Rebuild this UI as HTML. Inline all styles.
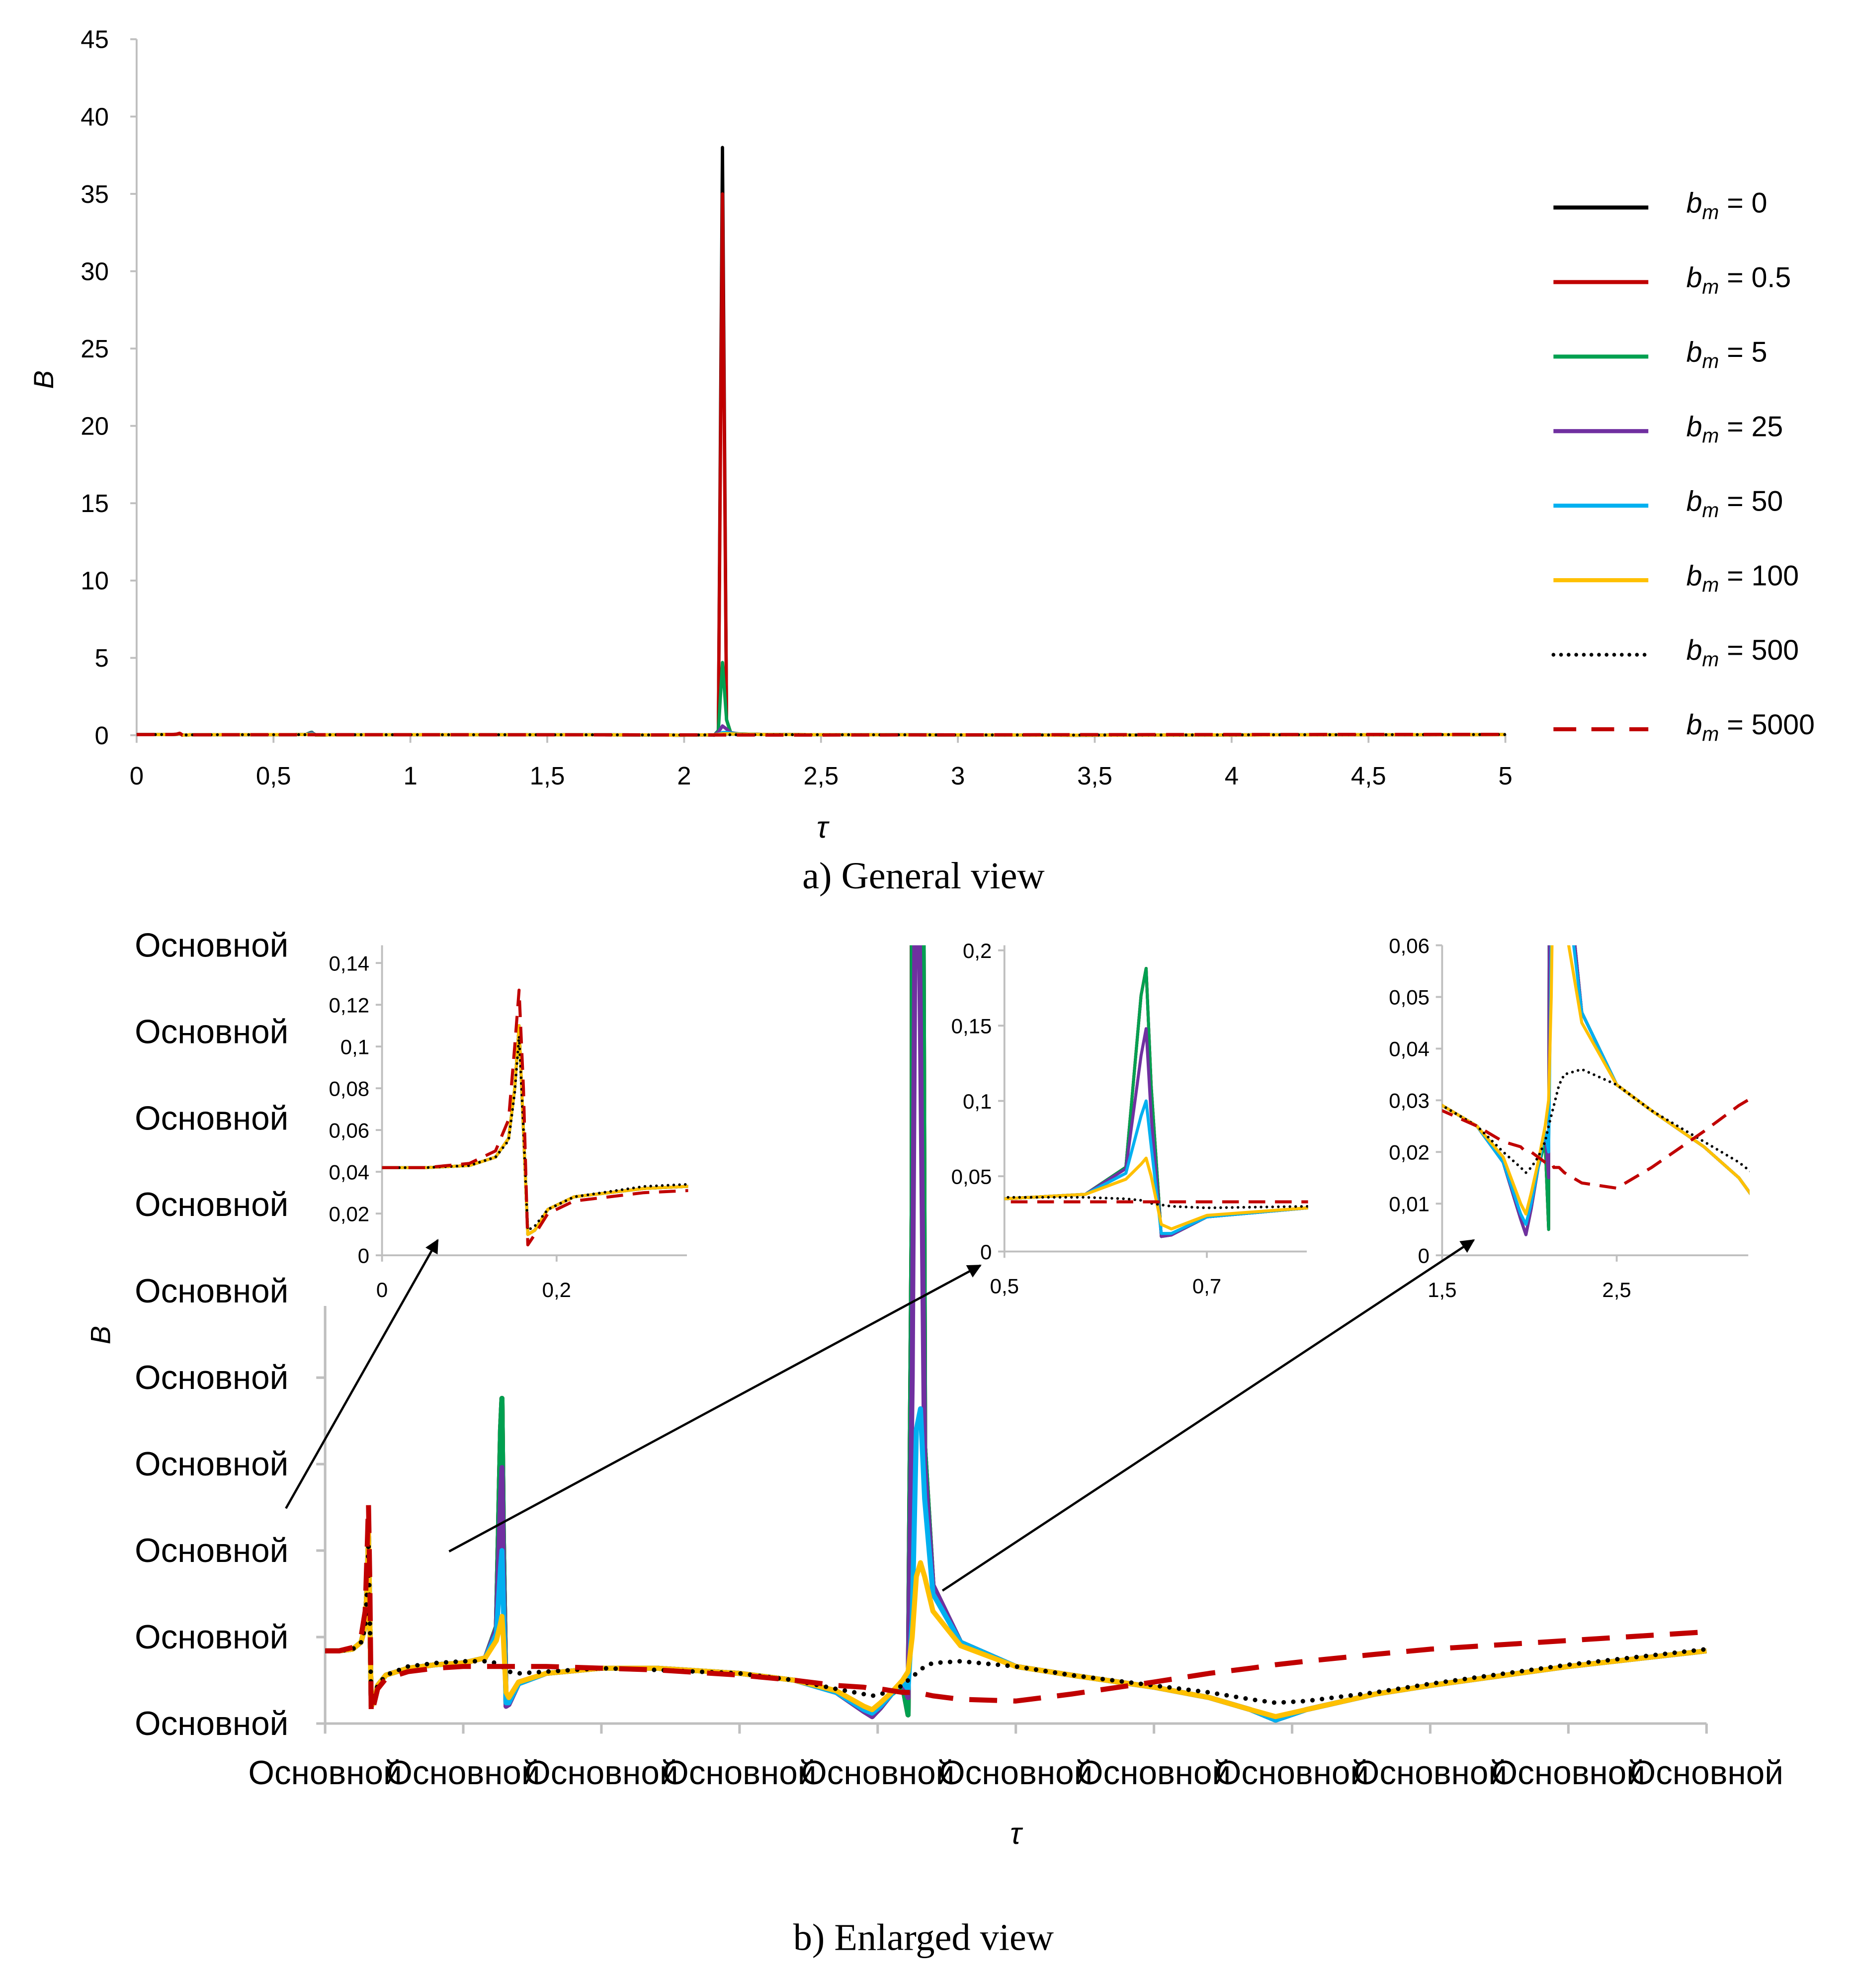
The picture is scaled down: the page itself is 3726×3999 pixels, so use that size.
<!DOCTYPE html>
<html><head><meta charset="utf-8"><style>
html,body{margin:0;padding:0;background:#fff}
svg{display:block}
text{font-family:"Liberation Sans",sans-serif;fill:#000}
.ser{font-family:"Liberation Serif",serif}
</style></head><body>
<svg id="svg" width="3726" height="3999" viewBox="0 0 1464 1571" preserveAspectRatio="none" xmlns="http://www.w3.org/2000/svg">
<defs>
<clipPath id="cTop"><rect x="108" y="20" width="1085" height="565"/></clipPath>
<clipPath id="cMain"><rect x="257" y="747" width="1095" height="620"/></clipPath>
<clipPath id="cI1"><rect x="302" y="747" width="242" height="248"/></clipPath>
<clipPath id="cI2"><rect x="794" y="747" width="240" height="245"/></clipPath>
<clipPath id="cI3"><rect x="1140" y="747" width="243" height="248"/></clipPath>
<marker id="ah" viewBox="0 0 10 10" refX="9" refY="5" markerWidth="11" markerHeight="11" orient="auto" markerUnits="userSpaceOnUse"><path d="M0,0 L10,5 L0,10 z" fill="#000"/></marker>
</defs>
<g id="root"></g>
<text class="ser" x="730" y="702" font-size="30" text-anchor="middle">a) General view</text>
<text class="ser" x="730" y="1541" font-size="30" text-anchor="middle">b) Enlarged view</text>
</svg>
<script>
const tau = [0,0.05,0.1,0.13,0.145,0.152,0.157,0.162,0.167,0.175,0.19,0.22,0.3,0.4,0.5,0.58,0.62,0.635,0.64,0.645,0.655,0.665,0.7,0.8,1.0,1.2,1.5,1.7,1.85,1.95,1.98,2.01,2.05,2.09,2.11,2.125,2.14,2.155,2.17,2.2,2.3,2.5,2.7,3.0,3.2,3.35,3.44,3.55,3.8,4.0,4.5,5.0];
const yYellow = [0.042,0.042,0.043,0.047,0.056,0.08,0.11,0.06,0.01,0.012,0.022,0.028,0.032,0.034,0.035,0.038,0.048,0.058,0.062,0.05,0.018,0.015,0.024,0.029,0.032,0.032,0.029,0.025,0.019,0.01,0.008,0.012,0.018,0.025,0.03,0.05,0.085,0.093,0.085,0.065,0.045,0.033,0.028,0.021,0.015,0.008,0.004,0.008,0.017,0.022,0.033,0.042];
const yBlue = [0.042,0.042,0.043,0.047,0.056,0.08,0.11,0.06,0.01,0.012,0.022,0.028,0.032,0.034,0.035,0.038,0.052,0.09,0.1,0.07,0.012,0.012,0.023,0.029,0.032,0.032,0.029,0.025,0.018,0.008,0.006,0.01,0.017,0.024,0.02,0.06,0.17,0.182,0.13,0.075,0.047,0.033,0.028,0.021,0.015,0.008,0.002,0.008,0.017,0.022,0.033,0.042];
const yPurple = [0.042,0.042,0.043,0.047,0.056,0.08,0.11,0.06,0.01,0.012,0.022,0.028,0.032,0.034,0.035,0.038,0.055,0.13,0.148,0.09,0.01,0.011,0.023,0.029,0.032,0.032,0.029,0.025,0.018,0.007,0.004,0.009,0.017,0.024,0.015,0.2,0.6,0.4,0.15,0.08,0.047,0.033,0.028,0.021,0.015,0.008,0.002,0.008,0.017,0.022,0.033,0.042];
const yGreen = [0.042,0.042,0.043,0.047,0.056,0.08,0.11,0.06,0.01,0.012,0.022,0.028,0.032,0.034,0.035,0.038,0.056,0.17,0.188,0.11,0.01,0.011,0.023,0.029,0.032,0.032,0.029,0.025,0.018,0.007,0.004,0.009,0.017,0.022,0.005,0.3,4.7,1.0,0.16,0.08,0.047,0.033,0.028,0.021,0.015,0.008,0.002,0.008,0.017,0.022,0.033,0.042];
const yRed = [0.042,0.042,0.043,0.047,0.056,0.08,0.11,0.06,0.01,0.012,0.022,0.028,0.032,0.034,0.035,0.038,0.056,0.17,0.188,0.11,0.01,0.011,0.023,0.029,0.032,0.032,0.029,0.025,0.018,0.007,0.004,0.009,0.017,0.022,0.005,0.3,35,1.0,0.16,0.08,0.047,0.033,0.028,0.021,0.015,0.008,0.002,0.008,0.017,0.022,0.033,0.042];
const yBlack = [0.042,0.042,0.043,0.047,0.056,0.08,0.11,0.06,0.01,0.012,0.022,0.028,0.032,0.034,0.035,0.038,0.056,0.17,0.188,0.11,0.01,0.011,0.023,0.029,0.032,0.032,0.029,0.025,0.018,0.007,0.004,0.009,0.017,0.022,0.005,0.3,38,1.0,0.16,0.08,0.047,0.033,0.028,0.021,0.015,0.008,0.002,0.008,0.017,0.022,0.033,0.042];
const yDotted = [0.042,0.042,0.043,0.047,0.055,0.078,0.105,0.06,0.012,0.014,0.022,0.028,0.033,0.035,0.036,0.036,0.035,0.034,0.033,0.032,0.031,0.03,0.029,0.03,0.032,0.031,0.029,0.025,0.02,0.017,0.016,0.017,0.019,0.022,0.025,0.027,0.029,0.031,0.033,0.035,0.036,0.033,0.028,0.022,0.018,0.014,0.012,0.013,0.018,0.023,0.034,0.043];
const yDashed = [0.042,0.042,0.044,0.05,0.065,0.1,0.127,0.08,0.005,0.01,0.02,0.026,0.03,0.032,0.033,0.033,0.033,0.033,0.033,0.033,0.033,0.033,0.033,0.033,0.032,0.031,0.028,0.025,0.022,0.021,0.02,0.02,0.019,0.018,0.018,0.018,0.017,0.017,0.017,0.016,0.014,0.013,0.017,0.024,0.029,0.032,0.034,0.036,0.04,0.043,0.048,0.053];
const legendLabels = ["0","0.5","5","25","50","100","500","5000"];
const topYTicks = [0,5,10,15,20,25,30,35,40,45];
const topXTicks = ["0","0,5","1","1,5","2","2,5","3","3,5","4","4,5","5"];
const mainYTicks = [0,0.05,0.1,0.15,0.2,0.25,0.3,0.35,0.4,0.45];
const mainXTicks = [0,0.5,1,1.5,2,2.5,3,3.5,4,4.5,5];
const i1YTicks = ["0","0,02","0,04","0,06","0,08","0,1","0,12","0,14"];
const i1XTicks = ["0","0,2"];
const i2YTicks = ["0","0,05","0,1","0,15","0,2"];
const i2XTicks = ["0,5","0,7"];
const i3YTicks = ["0","0,01","0,02","0,03","0,04","0,05","0,06"];
const i3XTicks = ["1,5","2,5"];

const NS="http://www.w3.org/2000/svg";
const root=document.getElementById('root');
function mk(tag,attrs,parent){const e=document.createElementNS(NS,tag);for(const k in attrs)e.setAttribute(k,attrs[k]);(parent||root).appendChild(e);return e;}
function txt(s,attrs,parent){const e=mk('text',attrs,parent);e.textContent=s;return e;}
function lin(d0,d1,r0,r1){return v=>r0+(v-d0)/(d1-d0)*(r1-r0);}
const GRAY="#bfbfbf";
const series=[
 {v:yBlack,c:"#000000",n:"series-bm-0"},
 {v:yRed,c:"#c00000",n:"series-bm-0-5"},
 {v:yGreen,c:"#00a050",n:"series-bm-5"},
 {v:yPurple,c:"#7030a0",n:"series-bm-25"},
 {v:yBlue,c:"#00b0f0",n:"series-bm-50"},
 {v:yYellow,c:"#ffc000",n:"series-bm-100"},
 {v:yDotted,c:"#000000",n:"series-bm-500",dot:true},
 {v:yDashed,c:"#c00000",n:"series-bm-5000",dash:true}
];
function drawSeries(g,x,y,w,prefix){
 series.forEach(s=>{
  let d="";tau.forEach((t,i)=>{d+=(i?"L":"M")+x(t).toFixed(2)+","+y(s.v[i]).toFixed(2);});
  const p=mk('path',{d:d,fill:"none",stroke:s.c,"stroke-width":s.dot?w*0.9:w,"stroke-linejoin":"round","stroke-linecap":s.dot?"round":"butt"},g);
  if(s.dot)p.setAttribute('stroke-dasharray',"0 "+(w*1.9));
  if(s.dash)p.setAttribute('stroke-dasharray',(w*5.5)+" "+(w*3.2));
  
  
 });
}

// ---------- Top chart ----------
const tx=lin(0,5,108,1190), ty=lin(0,45,581,31);
const topAx=mk('g',{});


mk('line',{x1:108,y1:31,x2:108,y2:581,stroke:GRAY,"stroke-width":1.5},topAx);
mk('line',{x1:108,y1:581,x2:1190,y2:581,stroke:GRAY,"stroke-width":1.5},topAx);
topYTicks.forEach(v=>{
 mk('line',{x1:103,y1:ty(v),x2:108,y2:ty(v),stroke:GRAY,"stroke-width":1.5},topAx);
 const t=txt(String(v),{x:86,y:ty(v)+7,"font-size":20,"text-anchor":"end"},topAx);
 
 
});
topXTicks.forEach((s,i)=>{
 const xv=tx(i*0.5);
 mk('line',{x1:xv,y1:581,x2:xv,y2:587,stroke:GRAY,"stroke-width":1.5},topAx);
 const t=txt(s,{x:xv,y:620,"font-size":20,"text-anchor":"middle"},topAx);
 
 
});
const tyl=txt("B",{x:0,y:0,"font-size":22,"font-style":"italic","text-anchor":"middle",transform:"translate(42,300) rotate(-90)"});


const txl=txt("τ",{x:650,y:662,"font-size":24,"font-style":"italic","text-anchor":"middle"});


const topG=mk('g',{"clip-path":"url(#cTop)"});


drawSeries(topG,tx,ty,2.6,'top');

// Legend
const lg=mk('g',{});


legendLabels.forEach((lab,i)=>{
 const yy=164+i*58.9, s=series[i];
 const e=mk('g',{},lg);
 
 
 const l=mk('line',{x1:1228,y1:yy,x2:1303,y2:yy,stroke:s.c,"stroke-width":s.dot?3:3.2,"stroke-linecap":s.dot?"round":"butt"},e);
 if(s.dot)l.setAttribute('stroke-dasharray',"0 6");
 if(s.dash)l.setAttribute('stroke-dasharray',"18 12");
 const t=txt("",{x:1333,y:yy+4,"font-size":22.5},e);
 const a=document.createElementNS(NS,'tspan');a.setAttribute('font-style','italic');a.textContent='b';t.appendChild(a);
 const b=document.createElementNS(NS,'tspan');b.setAttribute('font-style','italic');b.setAttribute('font-size','16');b.setAttribute('dy','5');b.textContent='m';t.appendChild(b);
 const c=document.createElementNS(NS,'tspan');c.setAttribute('dy','-5');c.textContent=' = '+lab;t.appendChild(c);
});

// ---------- Main bottom chart ----------
const mx=lin(0,5,257,1349), my=lin(0,0.45,1362,747);
const mAx=mk('g',{});


mk('line',{x1:257,y1:1032,x2:257,y2:1362,stroke:GRAY,"stroke-width":2},mAx);
mk('line',{x1:257,y1:1362,x2:1349,y2:1362,stroke:GRAY,"stroke-width":2},mAx);
mainYTicks.forEach(v=>{
 if(my(v)>1030) mk('line',{x1:250,y1:my(v),x2:257,y2:my(v),stroke:GRAY,"stroke-width":2},mAx);
 const t=txt("Основной",{x:228,y:my(v)+9,"font-size":26.5,"text-anchor":"end"},mAx);
 
 
});
mainXTicks.forEach(v=>{
 mk('line',{x1:mx(v),y1:1362,x2:mx(v),y2:1370,stroke:GRAY,"stroke-width":2},mAx);
 const t=txt("Основной",{x:mx(v),y:1410,"font-size":26.5,"text-anchor":"middle"},mAx);
 
 
});
const myl=txt("B",{x:0,y:0,"font-size":22,"font-style":"italic","text-anchor":"middle",transform:"translate(87,1055) rotate(-90)"});


const mxl=txt("τ",{x:803,y:1457,"font-size":24,"font-style":"italic","text-anchor":"middle"});


const mG=mk('g',{"clip-path":"url(#cMain)"});


drawSeries(mG,mx,my,4,'main');

// ---------- Insets ----------
function inset(name,clip,x0,x1,px0,px1,y0,y1,py0,py1,yt,xt,xtv,ytv,axRight){
 const x=lin(x0,x1,px0,px1), y=lin(y0,y1,py0,py1);
 const g=mk('g',{});
 
 
 mk('rect',{x:px0-60,y:740,width:axRight-px0+75,height:py0-730,fill:"#fff"},g);
 mk('line',{x1:px0,y1:747,x2:px0,y2:py0,stroke:GRAY,"stroke-width":1.5},g);
 mk('line',{x1:px0,y1:py0,x2:axRight,y2:py0,stroke:GRAY,"stroke-width":1.5},g);
 yt.forEach((s,i)=>{const yy=y(ytv[i]);
  mk('line',{x1:px0-5,y1:yy,x2:px0,y2:yy,stroke:GRAY,"stroke-width":1.5},g);
  const t=txt(s,{x:px0-10,y:yy+6,"font-size":16.5,"text-anchor":"end"},g);
  
  });
 xt.forEach((s,i)=>{const xx=x(xtv[i]);
  mk('line',{x1:xx,y1:py0,x2:xx,y2:py0+5,stroke:GRAY,"stroke-width":1.5},g);
  const t=txt(s,{x:xx,y:py0+33,"font-size":16.5,"text-anchor":"middle"},g);
  
  });
 const pg=mk('g',{"clip-path":"url(#"+clip+")"},g);
 drawSeries(pg,x,y,2.4,name);
}
inset('inset-1','cI1',0,0.2,302,440,0,0.14,992,761,i1YTicks,i1XTicks,[0,0.2],[0,0.02,0.04,0.06,0.08,0.1,0.12,0.14],543);
inset('inset-2','cI2',0.5,0.7,794,954,0,0.2,989,751,i2YTicks,i2XTicks,[0.5,0.7],[0,0.05,0.1,0.15,0.2],1033);
inset('inset-3','cI3',1.5,2.5,1140,1278,0,0.06,992,747,i3YTicks,i3XTicks,[1.5,2.5],[0,0.01,0.02,0.03,0.04,0.05,0.06],1382);

// Arrows
[[226,1192,346,980],[355,1226,775,1000],[745,1257,1165,980]].forEach(a=>{
 const l=mk('line',{x1:a[0],y1:a[1],x2:a[2],y2:a[3],stroke:"#000","stroke-width":1.8,"marker-end":"url(#ah)"});
 
 
});
</script>
</body></html>
